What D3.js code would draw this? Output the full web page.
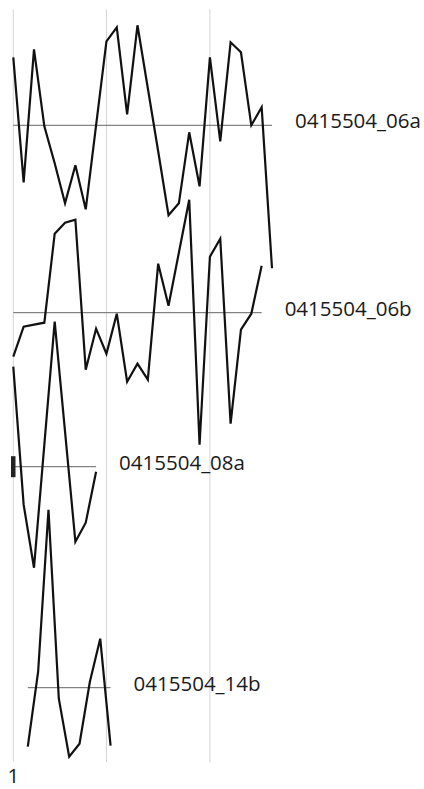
<!DOCTYPE html>
<html>
<head>
<meta charset="utf-8">
<script src="https://cdn.jsdelivr.net/npm/d3@7/dist/d3.min.js"></script>
<style>
  html, body { margin: 0; padding: 0; background: #fff; }
  svg { display: block; }
  text { font-family: "Open Sans", sans-serif; font-size: 20.5px; fill: #1a1a1a; }
</style>
</head>
<body>
<svg id="chart" width="424" height="789"></svg>
<script>
// ---- data ----
const seriesNames = ["0415504_06a", "0415504_06b", "0415504_08a", "0415504_14b"];
const seriesStart = [1, 1, 1, 2.4];           // first year of each series
const seriesLevel = [6.637, 4.763, 3.223, 1.013]; // baseline level of each series
const values06a = [0.68, -0.57, 0.76, -0.01, -0.38, -0.78, -0.40, -0.84, 0.00, 0.84, 0.98, 0.11, 1.00, 0.37, -0.26, -0.90, -0.78, -0.07, -0.61, 0.68, -0.16, 0.83, 0.73, 0.00, 0.18, -1.43];
const values06b = [-0.44, -0.14, -0.12, -0.10, 0.79, 0.90, 0.93, -0.57, -0.16, -0.41, -0.01, -0.69, -0.51, -0.67, 0.49, 0.07, 0.60, 1.13, -1.32, 0.56, 0.74, -1.11, -0.17, -0.01, 0.47];
const values08a = [1.00, -0.38, -1.01, 0.22, 1.45, 0.35, -0.75, -0.56, -0.05];
const values14b = [-0.59, 0.16, 1.78, -0.11, -0.69, -0.56, 0.06, 0.49, -0.58];
const seriesValues = [values06a, values06b, values08a, values14b];
const markerSeries = [2];        // series with a start marker
const gridYears = [1, 10, 20];
const tickLabels = ["1"];
const tickYears = [1];

// ---- scales ----
const svg = d3.select("#chart");
const x = d3.scaleLinear().domain([1, 26]).range([13.3, 272]);
const y = d3.scaleLinear().domain([0, 7.89]).range([789, 0]);

// grid
svg.append("g").selectAll("line").data(gridYears).join("line")
  .attr("x1", d => x(d)).attr("x2", d => x(d))
  .attr("y1", 9.3).attr("y2", 762)
  .attr("stroke", "#d4d4d4").attr("stroke-width", 1);

// tick labels
svg.append("g").selectAll("text").data(tickYears).join("text")
  .attr("x", d => x(d)).attr("y", 783)
  .attr("text-anchor", "middle")
  .text((d, i) => tickLabels[i]);

const series = seriesNames.map((name, i) => ({
  name, level: seriesLevel[i],
  pts: seriesValues[i].map((v, j) => ({ year: seriesStart[i] + j, v: seriesLevel[i] + v }))
}));

const g = svg.append("g");
series.forEach((s, i) => {
  const x0 = x(s.pts[0].year), x1 = x(s.pts[s.pts.length - 1].year);
  // baseline
  g.append("line")
    .attr("x1", x0).attr("x2", x1)
    .attr("y1", y(s.level)).attr("y2", y(s.level))
    .attr("stroke", "#666").attr("stroke-width", 1);
  // series line
  g.append("path")
    .datum(s.pts)
    .attr("fill", "none").attr("stroke", "#111").attr("stroke-width", 2.2)
    .attr("stroke-linejoin", "miter")
    .attr("d", d3.line().x(d => x(d.year)).y(d => y(d.v)));
  // marker
  if (markerSeries.includes(i)) {
    g.append("rect")
      .attr("x", x0 - 2.3).attr("width", 4.5)
      .attr("y", y(s.level + 0.105)).attr("height", y(s.level - 0.105) - y(s.level + 0.105))
      .attr("fill", "#222");
  }
  // label
  g.append("text")
    .attr("x", x1 + 23).attr("y", y(s.level) + 3)
    .text(s.name);
});
</script>
</body>
</html>
